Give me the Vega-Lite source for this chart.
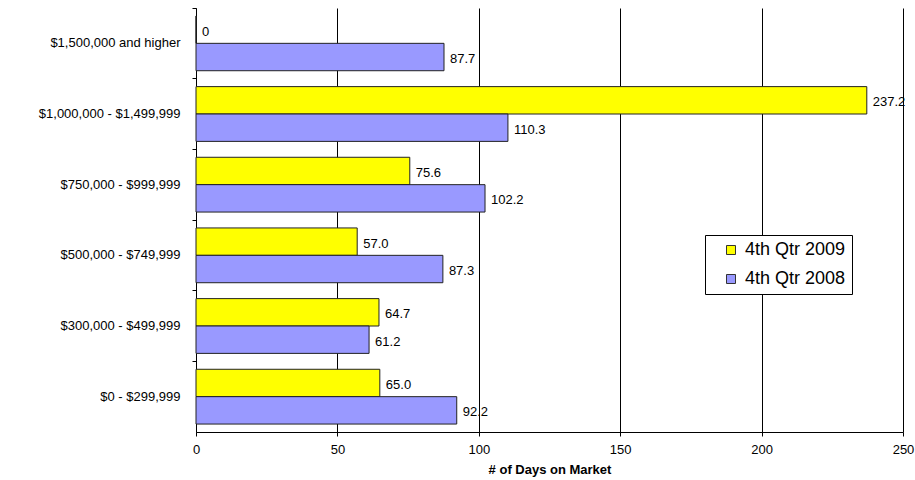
{
  "$schema": "https://vega.github.io/schema/vega-lite/v6.json",
  "width": 707,
  "height": 424,
  "autosize": {"type": "none"},
  "padding": {"left": 196, "top": 8, "right": 12, "bottom": 48},
  "background": "white",
  "data": {
    "values": [
      {"range": "$1,500,000 and higher", "period": "4th Qtr 2009", "days": 0, "label": "0"},
      {"range": "$1,500,000 and higher", "period": "4th Qtr 2008", "days": 87.7, "label": "87.7"},
      {"range": "$1,000,000 - $1,499,999", "period": "4th Qtr 2009", "days": 237.2, "label": "237.2"},
      {"range": "$1,000,000 - $1,499,999", "period": "4th Qtr 2008", "days": 110.3, "label": "110.3"},
      {"range": "$750,000 - $999,999", "period": "4th Qtr 2009", "days": 75.6, "label": "75.6"},
      {"range": "$750,000 - $999,999", "period": "4th Qtr 2008", "days": 102.2, "label": "102.2"},
      {"range": "$500,000 - $749,999", "period": "4th Qtr 2009", "days": 57.0, "label": "57.0"},
      {"range": "$500,000 - $749,999", "period": "4th Qtr 2008", "days": 87.3, "label": "87.3"},
      {"range": "$300,000 - $499,999", "period": "4th Qtr 2009", "days": 64.7, "label": "64.7"},
      {"range": "$300,000 - $499,999", "period": "4th Qtr 2008", "days": 61.2, "label": "61.2"},
      {"range": "$0 - $299,999", "period": "4th Qtr 2009", "days": 65.0, "label": "65.0"},
      {"range": "$0 - $299,999", "period": "4th Qtr 2008", "days": 92.2, "label": "92.2"}
    ]
  },
  "config": {
    "font": "Liberation Sans",
    "view": {"stroke": null}
  },
  "encoding": {
    "y": {
      "field": "range",
      "type": "nominal",
      "sort": ["$1,500,000 and higher", "$1,000,000 - $1,499,999", "$750,000 - $999,999", "$500,000 - $749,999", "$300,000 - $499,999", "$0 - $299,999"],
      "scale": {"paddingInner": 0, "paddingOuter": 0},
      "axis": {
        "title": null,
        "domainColor": "black",
        "tickColor": "black",
        "tickSize": 4,
        "bandPosition": 0,
        "labelFontSize": 13,
        "labelColor": "black",
        "labelPadding": 12,
        "labelLimit": 200,
        "grid": false
      }
    },
    "yOffset": {
      "field": "period",
      "type": "nominal",
      "sort": ["4th Qtr 2009", "4th Qtr 2008"],
      "scale": {"paddingInner": 0, "paddingOuter": 0.29}
    },
    "x": {
      "field": "days",
      "type": "quantitative",
      "scale": {"domain": [0, 250], "nice": false},
      "axis": {
        "title": "# of Days on Market",
        "titleFontSize": 13,
        "titleFontWeight": "bold",
        "titleColor": "black",
        "titlePadding": 7,
        "values": [0, 50, 100, 150, 200, 250],
        "grid": true,
        "gridColor": "black",
        "gridOpacity": 1,
        "domainColor": "black",
        "tickColor": "black",
        "tickSize": 4,
        "labelFontSize": 13,
        "labelColor": "black",
        "labelPadding": 7,
        "labelFlush": false
      }
    }
  },
  "layer": [
    {
      "mark": {"type": "bar", "stroke": "#222222", "strokeWidth": 1},
      "encoding": {
        "color": {
          "field": "period",
          "type": "nominal",
          "sort": ["4th Qtr 2009", "4th Qtr 2008"],
          "scale": {"domain": ["4th Qtr 2009", "4th Qtr 2008"], "range": ["#FFFF00", "#9999FF"]},
          "legend": {
            "title": null,
            "orient": "none",
            "legendX": 509,
            "legendY": 227,
            "direction": "vertical",
            "symbolType": "square",
            "symbolSize": 81,
            "symbolOffset": 11,
            "symbolStrokeColor": "#333333",
            "symbolStrokeWidth": 1,
            "labelFontSize": 18,
            "labelColor": "black",
            "labelOffset": 5,
            "labelExpr": "datum.label + '\u00a0\u00a0\u00a0'",
            "rowPadding": 11,
            "padding": 6,
            "strokeColor": "black",
            "fillColor": "white",
            "labelLimit": 300
          }
        }
      }
    },
    {
      "mark": {"type": "text", "align": "left", "baseline": "middle", "dx": 6, "dy": 2, "fontSize": 13, "color": "black"},
      "encoding": {
        "text": {"field": "label", "type": "nominal"}
      }
    }
  ]
}
